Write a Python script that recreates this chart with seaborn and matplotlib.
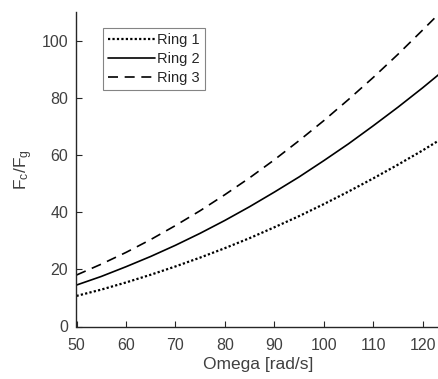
import matplotlib
matplotlib.use("Agg")
import matplotlib.pyplot as plt
import seaborn as sns
import pandas as pd

omega = [50, 55, 60, 65, 70, 75, 80, 85, 90, 95, 100, 105, 110, 115, 120, 123.3]
ring1 = [10.7, 12.9, 15.4, 18.1, 21.0, 24.1, 27.4, 30.9, 34.7, 38.6, 42.8, 47.2, 51.8, 56.6, 61.6, 65.1]
ring2 = [14.5, 17.5, 20.9, 24.5, 28.4, 32.6, 37.1, 41.9, 47.0, 52.3, 58.0, 63.9, 70.2, 76.7, 83.5, 88.2]
ring3 = [18.0, 21.8, 25.9, 30.4, 35.3, 40.5, 46.1, 52.0, 58.3, 65.0, 72.0, 79.4, 87.1, 95.2, 103.7, 109.4]
labels = ["Ring 1", "Ring 2", "Ring 3"]
xticks = [50, 60, 70, 80, 90, 100, 110, 120]
yticks = [0, 20, 40, 60, 80, 100]

sns.set_style("white")
plt.rcParams["font.family"] = ["Liberation Sans", "DejaVu Sans"]
plt.rcParams["mathtext.fontset"] = "custom"
plt.rcParams["mathtext.rm"] = "Liberation Sans"

fig = plt.figure(figsize=(4.39, 3.79), dpi=100)
ax = fig.add_axes([76.5 / 439, 52.5 / 379, (439 - 76.5) / 439, 314.5 / 379])

styles = [(0, (1, 1)), "-", (0, (6, 4))]
widths = [1.6, 1.2, 1.2]
for vals, lab, ls, lw in zip([ring1, ring2, ring3], labels, styles, widths):
    df = pd.DataFrame({"omega": omega, "val": vals})
    sns.lineplot(data=df, x="omega", y="val", ax=ax, color="black",
                 linestyle=ls, linewidth=lw, label=lab)

ax.set_xlim(50, 123.3)
ax.set_ylim(0, 110)
ax.set_xticks(xticks)
ax.set_yticks(yticks)
dark = "#262626"
for s in ["top", "right"]:
    ax.spines[s].set_visible(False)
for s in ["left", "bottom"]:
    ax.spines[s].set_color(dark)
    ax.spines[s].set_linewidth(1.0)
ax.tick_params(direction="in", length=4, width=0.8, colors=dark, labelsize=11.5,
               left=True, bottom=True)
ax.tick_params(axis="x", pad=8)
ax.tick_params(axis="y", pad=6)
for t in ax.get_xticklabels() + ax.get_yticklabels():
    t.set_color("#404040")
ax.set_xlabel("Omega [rad/s]", fontsize=12.5, color="#404040", labelpad=3)
ax.set_ylabel(r"$\mathrm{F_{c}/F_{g}}$", fontsize=12.5, color="#404040", labelpad=5)

leg = ax.legend(loc="upper left", bbox_to_anchor=(0.073, 0.949), borderaxespad=0,
                fontsize=10.5, frameon=True, fancybox=False, handlelength=3.2,
                handletextpad=0.15, labelspacing=0.35, borderpad=0.35)
leg.get_frame().set_edgecolor("#666666")
leg.get_frame().set_linewidth(0.8)
for t in leg.get_texts():
    t.set_color(dark)

fig.savefig("out.png", dpi=100)
